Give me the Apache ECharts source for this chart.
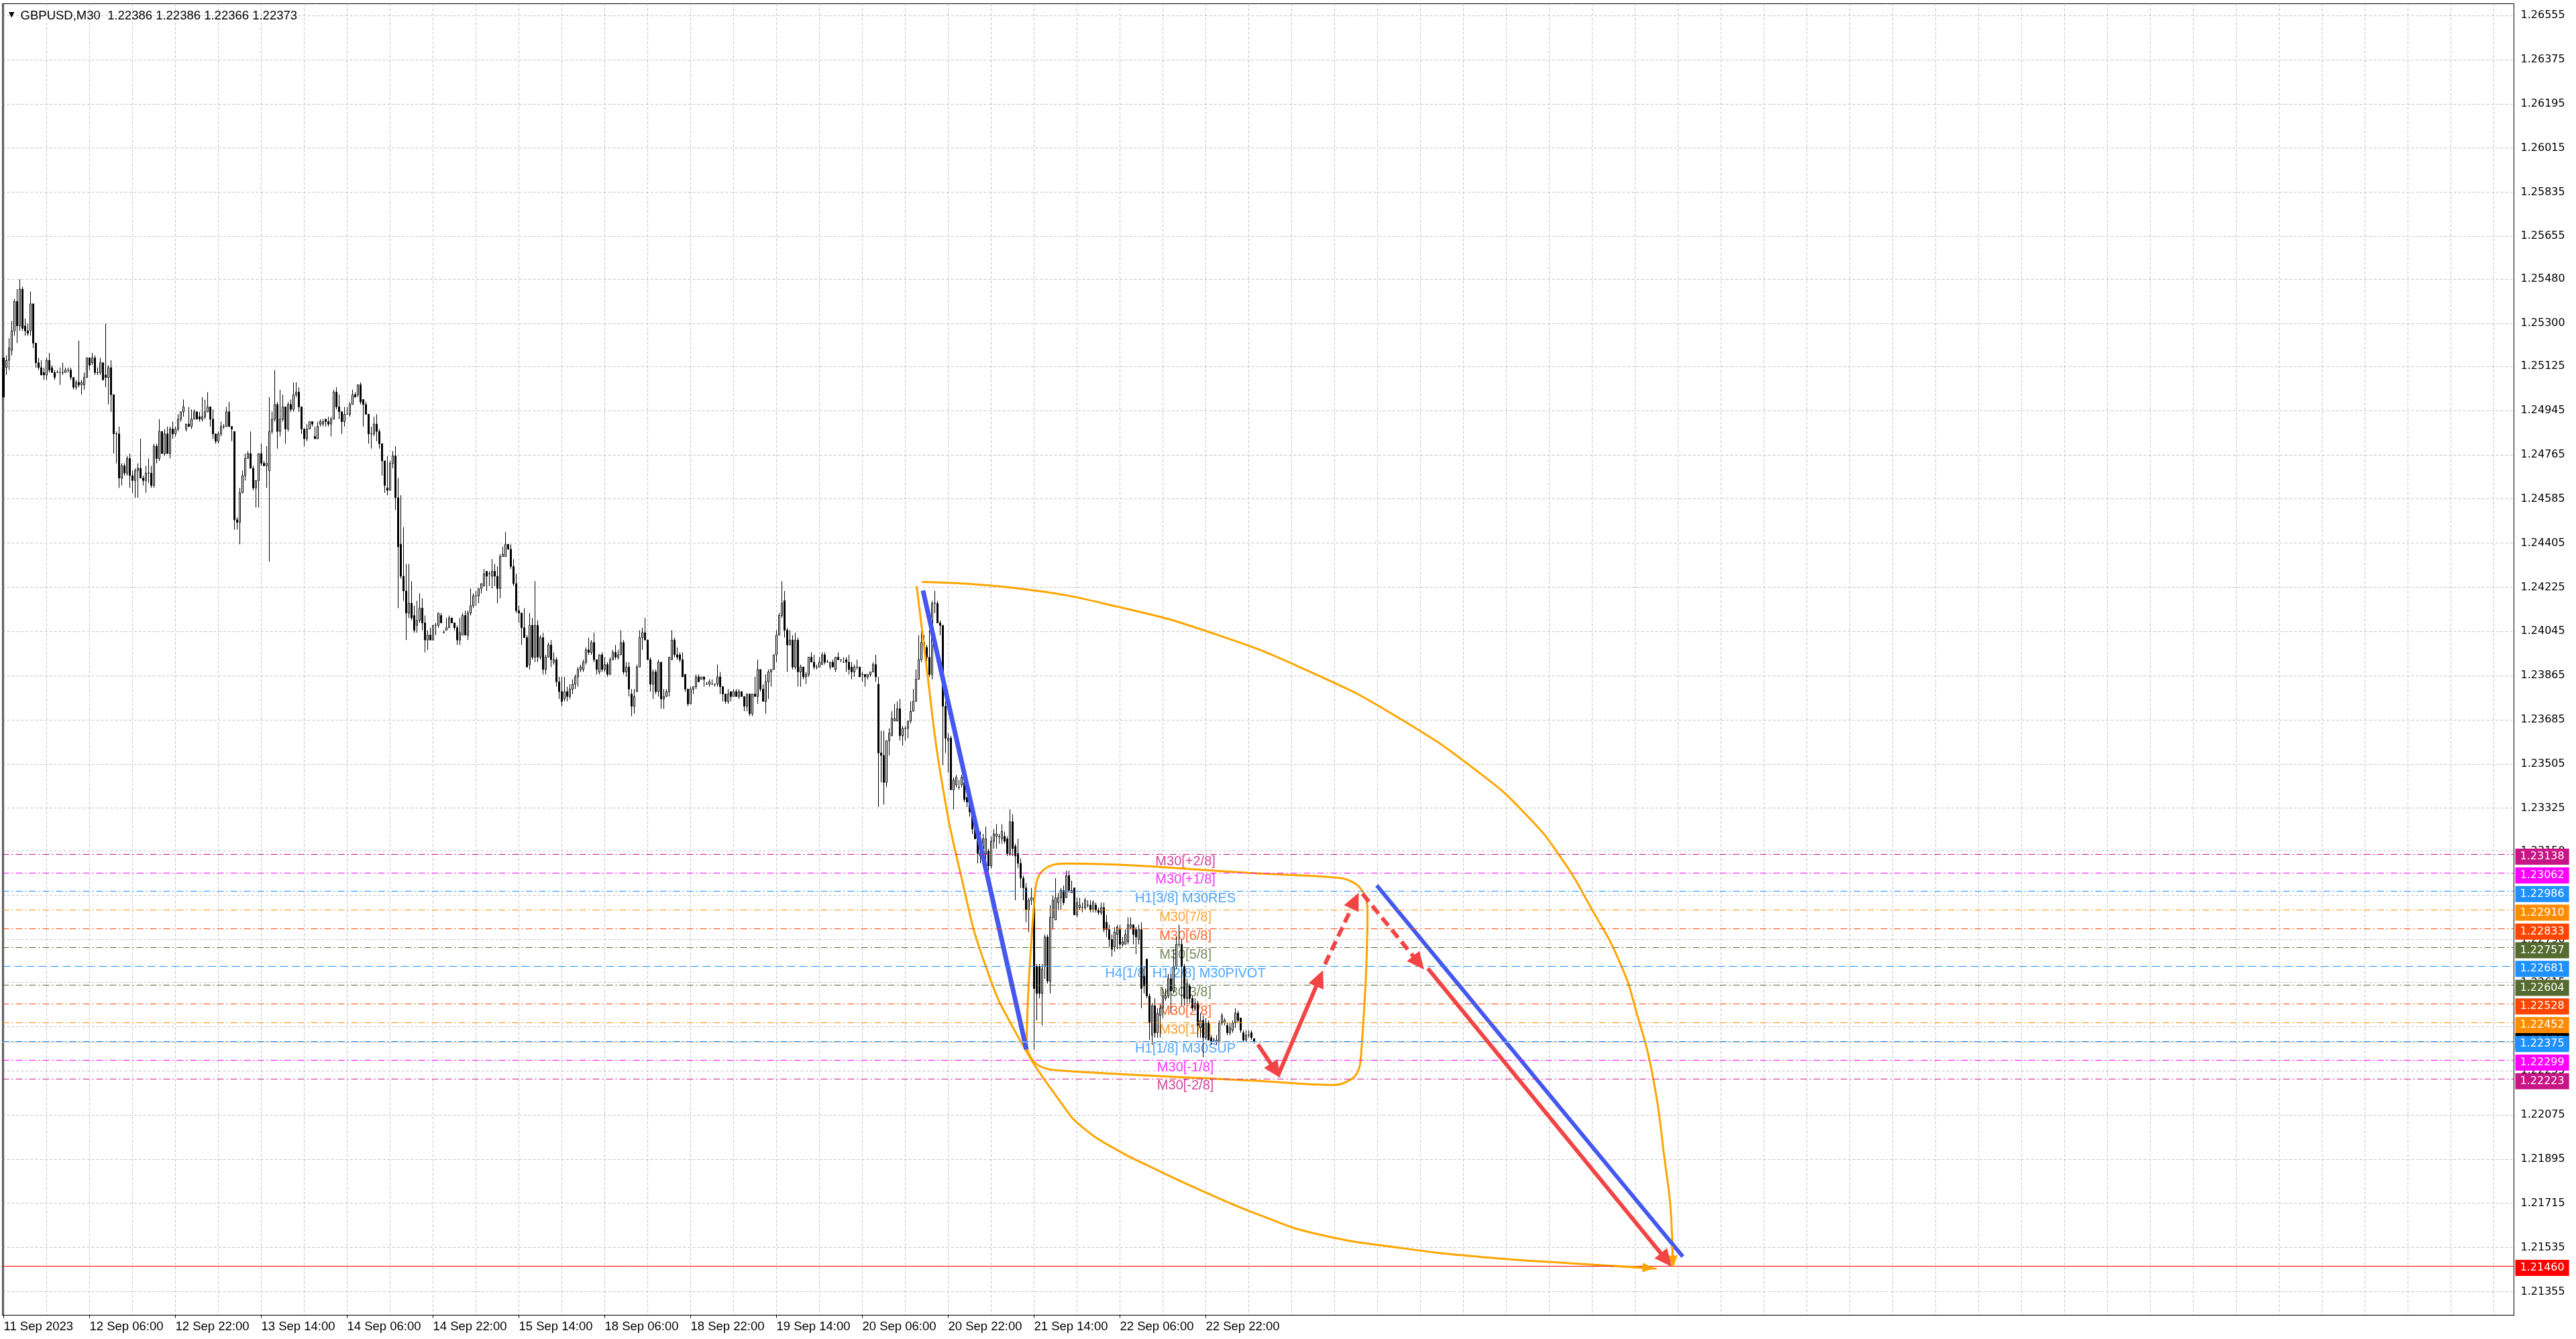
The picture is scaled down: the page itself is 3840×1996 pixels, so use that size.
<!DOCTYPE html>
<html><head><meta charset="utf-8">
<script src="https://cdn.jsdelivr.net/npm/echarts@6/dist/echarts.min.js"></script>
<style>html,body{margin:0;padding:0;background:#fff}#c{width:3840px;height:1996px}</style>
</head><body><div id="c"></div>
<script>
// ---------------- DATA ----------------
const xTickLabels = ['11 Sep 2023','12 Sep 06:00','12 Sep 22:00','13 Sep 14:00','14 Sep 06:00','14 Sep 22:00','15 Sep 14:00','18 Sep 06:00','18 Sep 22:00','19 Sep 14:00','20 Sep 06:00','20 Sep 22:00','21 Sep 14:00','22 Sep 06:00','22 Sep 22:00'];
const yTickLabels = ['1.21355','1.21535','1.21715','1.21895','1.22075','1.22255','1.22435','1.22615','1.22790','1.22970','1.23150','1.23325','1.23505','1.23685','1.23865','1.24045','1.24225','1.24405','1.24585','1.24765','1.24945','1.25125','1.25300','1.25480','1.25655','1.25835','1.26015','1.26195','1.26375','1.26555'];
// GBPUSD M30 candles, [open, close, low, high] in 1e-4 price units
const ohlcPips = [
[12516,12500,12500,12516],[12512,12515,12509,12517],[12515,12520,12511,12524],[12519,12527,12517,12531],[12527,12539,12525,12540],
[12539,12529,12522,12544],[12529,12544,12527,12548],[12544,12528,12527,12545],[12529,12527,12525,12532],[12527,12526,12525,12530],
[12527,12538,12525,12543],[12538,12522,12520,12538],[12522,12514,12512,12522],[12514,12512,12511,12516],[12512,12509,12509,12515],
[12510,12509,12507,12512],[12509,12515,12507,12516],[12515,12511,12510,12518],[12512,12510,12510,12513],[12510,12508,12507,12511],
[12510,12510,12510,12511],[12510,12510,12505,12512],[12510,12510,12509,12514],[12510,12511,12510,12512],[12511,12511,12510,12512],
[12511,12508,12507,12512],[12508,12504,12503,12508],[12504,12506,12503,12507],[12506,12505,12504,12523],[12505,12506,12501,12507],
[12505,12508,12503,12510],[12508,12516,12508,12516],[12516,12513,12511,12516],[12514,12516,12513,12518],[12516,12510,12509,12517],
[12510,12510,12509,12512],[12510,12514,12509,12516],[12514,12507,12507,12514],[12509,12508,12504,12530],[12508,12512,12497,12513],
[12512,12501,12494,12515],[12501,12485,12477,12501],[12485,12485,12473,12486],[12485,12467,12463,12488],[12467,12472,12464,12473],
[12472,12469,12468,12473],[12469,12475,12468,12476],[12475,12468,12463,12477],[12468,12466,12461,12470],[12466,12470,12459,12471],
[12470,12471,12459,12473],[12471,12467,12467,12483],[12467,12466,12464,12468],[12466,12469,12461,12472],[12469,12469,12465,12475],
[12469,12464,12463,12472],[12464,12480,12463,12481],[12480,12475,12473,12481],[12475,12486,12474,12491],[12486,12477,12477,12486],
[12477,12485,12476,12487],[12485,12477,12477,12488],[12477,12487,12475,12488],[12487,12485,12483,12490],[12485,12487,12484,12488],
[12487,12491,12486,12493],[12491,12494,12490,12494],[12494,12496,12492,12499],[12487,12489,12486,12489],[12489,12488,12488,12496],
[12488,12491,12487,12495],[12491,12494,12491,12495],[12494,12491,12491,12494],[12492,12491,12490,12494],[12491,12492,12490,12500],
[12492,12494,12491,12499],[12494,12496,12494,12502],[12496,12491,12488,12496],[12491,12485,12483,12495],[12485,12482,12481,12485],
[12482,12485,12481,12486],[12485,12488,12484,12490],[12488,12488,12487,12489],[12488,12494,12488,12496],[12494,12488,12488,12498],
[12488,12487,12482,12488],[12486,12450,12446,12486],[12450,12449,12446,12451],[12449,12461,12440,12463],[12461,12468,12461,12470],
[12468,12475,12466,12477],[12475,12477,12475,12478],[12477,12471,12471,12486],[12471,12463,12462,12472],[12463,12466,12455,12466],
[12466,12477,12455,12477],[12477,12473,12472,12481],[12473,12472,12472,12474],[12472,12473,12463,12480],[12470,12486,12433,12500],
[12486,12491,12485,12494],[12491,12497,12490,12511],[12497,12486,12479,12498],[12486,12491,12484,12503],[12491,12496,12490,12501],
[12496,12487,12481,12496],[12487,12497,12486,12498],[12497,12495,12494,12499],[12495,12501,12494,12506],[12501,12502,12500,12506],
[12502,12496,12494,12504],[12496,12487,12485,12496],[12487,12483,12480,12487],[12483,12487,12482,12489],[12487,12490,12487,12490],
[12490,12489,12488,12490],[12484,12483,12483,12488],
[12483,12488,12483,12490],[12489,12490,12488,12491],[12489,12490,12488,12491],[12491,12490,12488,12491],[12490,12489,12488,12492],
[12489,12491,12484,12492],[12491,12502,12491,12503],[12502,12496,12495,12504],[12496,12494,12491,12501],[12494,12490,12485,12494],
[12490,12493,12488,12496],[12493,12493,12493,12496],[12493,12497,12492,12498],[12497,12501,12497,12503],[12501,12500,12500,12502],
[12501,12505,12500,12505],[12505,12498,12497,12506],[12499,12497,12488,12499],[12497,12493,12493,12498],[12493,12485,12481,12493],
[12485,12485,12479,12488],[12485,12489,12484,12492],[12489,12486,12482,12493],[12486,12481,12479,12487],[12481,12474,12468,12481],
[12474,12464,12461,12474],[12463,12462,12460,12476],[12462,12473,12462,12474],[12473,12476,12471,12478],[12476,12459,12454,12480],
[12459,12439,12414,12467],[12440,12427,12426,12460],[12427,12421,12417,12447],[12421,12412,12401,12432],[12412,12416,12410,12432],
[12416,12410,12409,12425],[12411,12405,12404,12415],[12407,12409,12404,12417],[12409,12414,12408,12420],[12414,12408,12405,12418],
[12408,12401,12396,12411],[12401,12403,12397,12405],[12403,12401,12401,12406],[12401,12407,12401,12407],[12407,12407,12403,12408],
[12407,12412,12406,12412],[12411,12408,12408,12412],[12404,12404,12404,12405],[12405,12406,12405,12410],[12406,12410,12406,12411],
[12410,12408,12408,12410],[12408,12406,12405,12408],[12406,12401,12399,12407],[12401,12404,12399,12410],[12403,12411,12403,12412],
[12411,12403,12403,12413],[12403,12412,12401,12413],[12412,12415,12411,12422],[12415,12419,12414,12420],[12419,12419,12415,12421],
[12419,12422,12416,12422],[12422,12424,12420,12424],[12423,12428,12423,12430],[12429,12427,12421,12429],[12428,12428,12423,12429],
[12427,12429,12422,12434],[12429,12427,12423,12432],[12427,12422,12416,12431],[12422,12435,12418,12436],[12435,12436,12435,12439],
[12435,12440,12435,12445],[12440,12438,12438,12440],[12438,12431,12430,12440],[12431,12424,12423,12434],[12424,12413,12412,12428],
[12413,12412,12408,12415],[12412,12406,12399,12412],[12406,12402,12402,12414],[12402,12390,12390,12403],[12391,12407,12389,12412],
[12407,12394,12393,12410],[12394,12407,12392,12425],[12407,12394,12392,12409],[12394,12402,12393,12403],[12402,12389,12387,12404],
[12389,12394,12387,12395],[12394,12399,12394,12400],[12399,12393,12390,12401],[12392,12393,12391,12396],[12393,12384,12382,12394],
[12384,12380,12377,12386],[12380,12376,12374,12386],[12377,12380,12376,12386],[12380,12378,12376,12382],[12378,12381,12377,12383],
[12381,12383,12379,12385],[12383,12386,12381,12387],[12386,12389,12382,12390],[12389,12390,12388,12391],[12389,12392,12388,12393],
[12392,12397,12391,12398],[12397,12396,12395,12402],[12396,12400,12395,12401],[12400,12393,12392,12404],[12393,12389,12387,12393],
[12388,12395,12387,12395],[12395,12389,12388,12396],[12389,12391,12388,12394],[12391,12387,12386,12392],[12387,12393,12387,12394],
[12393,12396,12393,12397],[12396,12394,12393,12399],[12394,12395,12393,12397],[12395,12400,12395,12405],[12400,12388,12387,12401],
[12388,12390,12386,12392],[12390,12381,12378,12392],
[12379,12374,12370,12381],[12374,12378,12371,12381],[12380,12390,12380,12391],[12390,12402,12390,12405],[12402,12404,12397,12406],
[12404,12401,12401,12410],[12401,12393,12393,12401],[12393,12383,12380,12394],[12383,12388,12377,12389],[12388,12380,12379,12389],
[12380,12392,12378,12393],[12392,12377,12373,12392],[12377,12378,12373,12381],[12378,12380,12378,12381],[12380,12394,12378,12394],
[12393,12401,12393,12405],[12401,12395,12394,12402],[12395,12394,12393,12398],[12395,12393,12392,12396],[12393,12386,12386,12396],
[12387,12381,12380,12387],[12381,12375,12374,12381],[12375,12381,12375,12382],[12381,12382,12379,12382],[12382,12386,12381,12387],
[12386,12384,12384,12387],[12385,12386,12385,12386],[12386,12385,12382,12386],[12383,12383,12383,12384],[12383,12384,12382,12385],
[12383,12383,12383,12385],[12383,12383,12382,12383],[12383,12386,12382,12391],[12386,12382,12379,12388],[12382,12379,12376,12382],
[12379,12376,12375,12379],[12376,12379,12375,12381],[12380,12378,12376,12380],[12378,12380,12378,12381],[12380,12378,12378,12381],
[12378,12380,12377,12381],[12380,12378,12378,12380],[12378,12374,12372,12378],[12374,12379,12372,12379],[12379,12371,12370,12379],
[12371,12379,12370,12379],[12379,12378,12378,12386],[12378,12389,12375,12393],[12389,12381,12380,12389],[12381,12376,12376,12383],
[12376,12384,12371,12387],[12384,12388,12377,12389],[12388,12389,12382,12389],[12389,12395,12389,12395],[12395,12403,12392,12405],
[12403,12411,12403,12412],[12411,12416,12410,12425],[12417,12405,12402,12421],[12405,12399,12388,12406],[12399,12401,12399,12405],
[12401,12390,12389,12403],[12390,12401,12389,12404],[12401,12388,12382,12402],[12388,12390,12382,12391],[12390,12386,12385,12390],
[12386,12387,12383,12388],[12387,12394,12386,12394],[12394,12392,12392,12396],[12392,12390,12389,12395],[12390,12390,12389,12391],
[12390,12392,12390,12394],[12391,12395,12391,12396],[12395,12392,12391,12396],[12392,12392,12392,12393],[12390,12392,12389,12392],
[12392,12390,12390,12393],[12389,12394,12388,12394],[12394,12393,12393,12396],[12393,12393,12392,12393],[12392,12392,12392,12394],
[12393,12392,12388,12394],[12392,12389,12387,12395],[12390,12388,12385,12392],[12388,12390,12386,12391],[12390,12390,12389,12393],
[12390,12386,12386,12390],[12387,12387,12384,12388],[12387,12386,12382,12387],[12386,12387,12385,12387],[12387,12388,12386,12388],
[12388,12391,12388,12392],[12391,12386,12384,12395],[12383,12355,12333,12386],[12355,12354,12343,12364],[12354,12343,12334,12364],
[12343,12360,12341,12360],[12360,12363,12354,12365],[12362,12369,12362,12372],[12368,12369,12368,12375],[12368,12373,12368,12376],
[12373,12362,12360,12377],[12362,12365,12358,12366],[12365,12365,12360,12366],[12365,12368,12361,12368],[12368,12372,12367,12376],
[12372,12376,12372,12381],[12376,12385,12376,12389],[12385,12393,12385,12403],[12393,12400,12392,12405],[12400,12398,12396,12403],
[12398,12394,12392,12399],[12394,12387,12386,12405],[12387,12416,12385,12417],[12416,12416,12412,12421],[12416,12408,12408,12417],
[12408,12407,12403,12409],[12407,12374,12350,12407],
[12374,12361,12355,12376],[12360,12361,12347,12363],[12361,12340,12340,12362],[12340,12344,12332,12345],[12342,12345,12341,12346],
[12341,12341,12340,12344],[12342,12345,12341,12346],[12343,12336,12335,12344],[12337,12335,12333,12337],[12335,12331,12329,12335],
[12331,12324,12322,12332],[12324,12320,12320,12325],[12321,12314,12310,12322],[12313,12318,12310,12323],[12316,12320,12312,12322],
[12314,12320,12311,12325],[12315,12309,12306,12316],[12309,12319,12308,12321],[12319,12322,12316,12324],[12321,12322,12316,12326],
[12321,12321,12318,12322],[12320,12323,12318,12326],[12321,12319,12318,12323],[12320,12314,12313,12321],[12314,12327,12313,12332],
[12327,12316,12313,12330],[12317,12313,12295,12318],[12314,12310,12308,12320],[12310,12304,12300,12312],[12304,12300,12295,12305],
[12300,12291,12286,12302],[12291,12295,12282,12296],[12295,12296,12293,12300],[12296,12259,12234,12297],[12268,12257,12246,12269],
[12268,12257,12255,12269],[12257,12267,12244,12269],[12268,12280,12263,12281],[12280,12262,12261,12281],[12262,12288,12257,12293],
[12288,12295,12283,12297],[12287,12296,12287,12304],[12294,12296,12291,12298],[12296,12299,12291,12300],[12299,12294,12293,12301],
[12296,12305,12296,12307],[12305,12299,12298,12307],[12298,12299,12298,12303],[12300,12289,12289,12300],[12289,12294,12288,12296],
[12292,12293,12291,12296],[12292,12292,12290,12294],[12292,12295,12291,12296],[12293,12293,12292,12295],[12293,12291,12290,12295],
[12291,12294,12290,12295],[12293,12291,12290,12294],[12291,12290,12289,12292],[12290,12292,12289,12294],[12292,12283,12282,12294],
[12286,12283,12280,12289],[12283,12279,12276,12285],[12279,12275,12272,12281],[12276,12282,12274,12284],[12281,12284,12275,12285],
[12283,12277,12275,12285],[12277,12278,12276,12280],[12277,12281,12277,12283],[12278,12285,12277,12288],[12284,12285,12283,12288],
[12285,12281,12277,12285],[12283,12280,12273,12284],[12279,12283,12277,12285],[12283,12259,12251,12286],[12264,12260,12257,12268],
[12271,12256,12255,12271],[12256,12245,12238,12257],[12240,12252,12236,12253],[12252,12241,12239,12255],[12241,12249,12239,12251],
[12248,12251,12239,12253],[12251,12256,12247,12259],[12255,12256,12254,12259],[12256,12263,12255,12265],[12263,12258,12249,12265],
[12258,12268,12257,12275],[12268,12277,12267,12280],[12277,12277,12276,12285],[12277,12268,12252,12279],[12268,12255,12252,12269],
[12255,12261,12253,12263],[12260,12255,12253,12261],[12255,12251,12250,12256],[12251,12253,12250,12255],[12253,12244,12239,12254],
[12243,12246,12239,12249],[12246,12239,12231,12248],[12239,12245,12238,12247],[12245,12238,12238,12246],[12239,12237,12236,12240],
[12238,12238,12237,12239],[12237,12238,12236,12240],[12237,12245,12237,12246],[12245,12248,12244,12249],[12245,12246,12244,12247],
[12244,12241,12240,12245],[12241,12243,12240,12245],[12242,12245,12241,12246],[12245,12249,12243,12251],[12249,12246,12245,12250],
[12247,12242,12241,12247],[12241,12238,12237,12242],[12238,12240,12237,12242],[12240,12240,12239,12242],[12241,12239,12238,12242],
[12238.6,12237.3,12236.6,12238.6]
];
// Murrey-math style levels
const levelPrices = [1.23138,1.23062,1.22986,1.22910,1.22833,1.22757,1.22681,1.22604,1.22528,1.22452,1.22375,1.22299,1.22223];
const levelNames = ['M30[+2/8]','M30[+1/8]','H1[3/8] M30RES','M30[7/8]','M30[6/8]','M30[5/8]','H4[1/8] H1[2/8] M30PIVOT','M30[3/8]','M30[2/8]','M30[1/8]','H1[1/8] M30SUP','M30[-1/8]','M30[-2/8]'];
const targetPrice = 1.21460;
const currentPrice = 1.22373;
const titleText = 'GBPUSD,M30  1.22386 1.22386 1.22366 1.22373';
// drawn objects, [bar index, price]
const upperArc = [[342.2,1.24247],[378.4,1.24220],[415.1,1.24146],[451.8,1.24033],[488.6,1.23872],[519.1,1.23698],[549.8,1.23470],[568.1,1.23290],[580.4,1.23122],[591.4,1.22922],[602.4,1.22694],[608.5,1.22493],[614.7,1.22225],[619.0,1.21891],[621.4,1.21663],[622.0,1.21462]];
const lowerArc = [[340.25,1.24230],[344.2,1.23875],[349.25,1.23457],[357.0,1.23039],[365.7,1.22689],[377.2,1.22410],[395.2,1.22107],[402.8,1.22018],[415.1,1.21931],[427.3,1.21864],[445.7,1.21770],[468.95,1.21663],[489.75,1.21589],[521.25,1.21532],[553,1.21494],[584.5,1.21470],[616,1.21448]];
const boxPath = [[384.25,1.22967],[385.75,1.23049],[390,1.23090],[396.25,1.23099],[468.75,1.23058],[497.5,1.23041],[503.75,1.23017],[507,1.22973],[508.25,1.22913],[505.75,1.22303],[503.75,1.22235],[498.75,1.22202],[495,1.22197],[468.75,1.22213],[392.5,1.22257],[385.75,1.22276],[382.25,1.22320],[381.25,1.22366],[384.25,1.22967]];
const blueLine1 = [[342.6,1.24212],[381.15,1.22342]];
const blueLine2 = [[511.7,1.23010],[625.75,1.21498]];
const redSolid = [[[467.4,1.22362],[474.0,1.22255]],[[475,1.22238],[490.4,1.22632]],[[530.75,1.22672],[619.6,1.21484]]];
const redDashed = [[[492.4,1.22689],[503.6,1.22948]],[[506.4,1.22976],[527.3,1.22695]]];
const orangeHeads = [[[621.9,1.21540],[622.1,1.21478]],[[600,1.21460],[613,1.21452]]];

// ---------------- CHART ----------------
const totalSlots = 936;
const barsPerLabel = 32;
const gridEvery = 16;
const categories = Array.from({length: totalSlots}, (_, i) => String(i));
const candleData = ohlcPips.map(r => r.map(v => v / 10000));
const yTickValues = yTickLabels.map(Number);
const vGrid = [];
for (let b = 0; b < totalSlots; b += gridEvery) vGrid.push(b);

const C = {violet:'#C71585', magenta:'#FF00FF', blue:'#1E90FF', orange:'#FF8C00', red:'#FF4500', olive:'#556B2F'};
const levelColors = [C.violet,C.magenta,C.blue,C.orange,C.red,C.olive,C.blue,C.olive,C.red,C.orange,C.blue,C.magenta,C.violet];
const dashDot = [10,4,2,4];
const boxLabel = (bg, dy) => ({show:true, position:'end', distance:2, color:'#fff', backgroundColor:bg,
  padding:[4,7,3,7], fontFamily:'DejaVu Sans', fontSize:16, lineHeight:17, offset:[0, dy]});

const levelMarks = [
  {yAxis: currentPrice, lineStyle:{color:'#C0C0C0', type:'solid', width:1},
   label: Object.assign(boxLabel('#000', -1), {formatter: currentPrice.toFixed(5)})},
  ...levelPrices.map((p, i) => ({
    yAxis: p,
    lineStyle: {color: levelColors[i], width: 1, type: i === 6 ? [12,6] : dashDot},
    label: Object.assign(boxLabel(levelColors[i], 4), {formatter: p.toFixed(5)})
  })),
  {yAxis: targetPrice, lineStyle:{color:'#FF0000', type:'solid', width:1},
   label: Object.assign(boxLabel('#FF0000', 3), {formatter: targetPrice.toFixed(5)})}
];

const labelBar = 440.4;
const textData = levelPrices.map((p, i) => ({
  value: [labelBar, p],
  label: {formatter: levelNames[i], color: levelColors[i]}
}));

const arrowPair = (seg, color, dashed, size) => [
  {coord: seg[0], symbol:'none'},
  {coord: seg[1], symbol:'triangle', symbolSize: size,
   lineStyle:{color, width: 6, type: dashed ? [15,8] : 'solid'}}
];

const chart = echarts.init(document.getElementById('c'), null, {renderer:'canvas'});
chart.setOption({
  animation: false,
  backgroundColor: '#fff',
  title: {
    text: '{t|▼} ' + titleText, left: 8, top: 9,
    textStyle: {fontFamily:'Liberation Sans', fontSize:18.5, fontWeight:'normal', color:'#000',
      rich: {t: {fontFamily:'DejaVu Sans', fontSize:11, color:'#000', padding:[0,4,2,0]}}}
  },
  grid: {left: 3.5, right: 92.5, top: 5.5, bottom: 35.5, show: true, borderColor: '#000', borderWidth: 1, backgroundColor: '#fff'},
  xAxis: [
    {type:'category', data: categories, boundaryGap: true,
     axisLine:{show:true, onZero:false, lineStyle:{color:'#000', width:1}},
     axisTick:{show:true, alignWithLabel:true, length:4, interval:(i)=> i % barsPerLabel === 0 && i / barsPerLabel < xTickLabels.length, lineStyle:{color:'#000'}},
     axisLabel:{interval:(i)=> i % barsPerLabel === 0 && i / barsPerLabel < xTickLabels.length,
       formatter:(v, i)=> xTickLabels[i / barsPerLabel] || '', align:'left', margin:8,
       fontFamily:'Liberation Sans', fontSize:18.5, color:'#000'},
     splitLine:{show:false}},
    {type:'value', min:-0.5, max: totalSlots - 0.5, position:'bottom',
     axisLine:{show:false}, axisTick:{show:false, customValues: vGrid}, axisLabel:{show:false, customValues: vGrid},
     splitLine:{show:true, lineStyle:{color:'#C4C4C4', type:[4,3], width:1}}}
  ],
  yAxis: {
    type:'value', position:'right', min:1.21259, max:1.26603, scale:true,
    axisLine:{show:true, lineStyle:{color:'#000', width:1}},
    axisTick:{show:false, customValues: yTickValues},
    axisLabel:{customValues: yTickValues, formatter:(v)=> yTickLabels[yTickValues.indexOf(v)] || v.toFixed(5),
      color:'#000', fontFamily:'DejaVu Sans', fontSize:16, margin:10},
    splitLine:{show:true, lineStyle:{color:'#C4C4C4', type:[4,3], width:1}}
  },
  series: [
    {type:'scatter', name:'levels', xAxisIndex:1, yAxisIndex:0, z:1, silent:true,
     symbolSize:0, data: textData,
     label:{show:true, position:'bottom', distance:1, fontFamily:'Liberation Sans', fontSize:20, lineHeight:20},
     markLine:{silent:true, precision:6, symbol:['none','none'], animation:false, data: levelMarks}},
    {type:'candlestick', name:'GBPUSD', xAxisIndex:0, yAxisIndex:0, z:2, silent:true,
     barWidth: 2, data: candleData,
     itemStyle:{color:'#fff', color0:'#000', borderColor:'#000', borderColor0:'#000', borderWidth:1}},
    {type:'line', name:'arcUp', xAxisIndex:1, z:3, silent:true, data: upperArc, smooth:0.5, symbol:'none',
     lineStyle:{color:'#FFA500', width:3},
     markLine:{silent:true, precision:6, animation:false, label:{show:false}, symbol:['none','triangle'], symbolSize:[14,18],
       lineStyle:{color:'#FFA500', width:3, type:'solid'},
       data: orangeHeads.map(s => [{coord:s[0]},{coord:s[1]}])}},
    {type:'line', name:'arcLow', xAxisIndex:1, z:3, silent:true, data: lowerArc, smooth:0.5, symbol:'none',
     lineStyle:{color:'#FFA500', width:3}},
    {type:'line', name:'box', xAxisIndex:1, z:3, silent:true, data: boxPath, smooth:0.35, symbol:'none',
     lineStyle:{color:'#FFA500', width:3}},
    {type:'line', name:'blue1', xAxisIndex:1, z:3, silent:true, data: blueLine1, symbol:'none',
     lineStyle:{color:'#4458F0', width:7}},
    {type:'line', name:'blue2', xAxisIndex:1, z:3, silent:true, data: blueLine2, symbol:'none',
     lineStyle:{color:'#4458F0', width:6},
     markLine:{silent:true, precision:6, animation:false, label:{show:false}, symbol:['none','triangle'], symbolSize:[24,26],
       lineStyle:{color:'#F24444', width:6},
       data: [
         ...redSolid.map(s => arrowPair(s, '#F24444', false, [24,26])),
         ...redDashed.map(s => arrowPair(s, '#F24444', true, [24,26]))
       ]}}
  ]
});
</script>
</body></html>
